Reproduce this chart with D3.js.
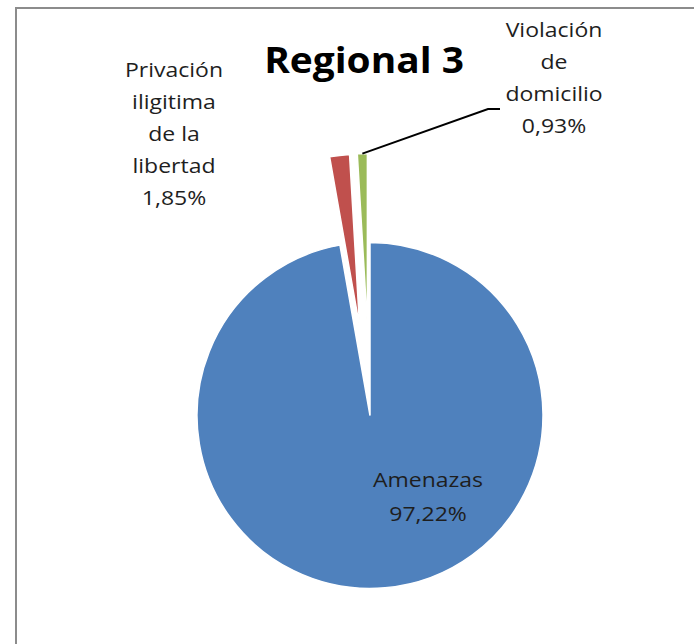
<!DOCTYPE html>
<html>
<head>
<meta charset="utf-8">
<script src="https://cdn.jsdelivr.net/npm/d3@7"></script>
<style>
  body { margin: 0; background: #fff; }
  text { font-family: "Open Sans", Lato, sans-serif; fill: #1e1e1e; font-variant-ligatures: none; }
</style>
</head>
<body>
<div id="chart"></div>
<script>
// Data
const categories = ["Amenazas", "Privación ilegítima de la libertad", "Violación de domicilio"];
const values = [97.22, 1.85, 0.93];
const labelLines = [
    ["Amenazas", "97,22%"],
    ["Privación", "iligitima", "de la", "libertad", "1,85%"],
    ["Violación", "de", "domicilio", "0,93%"]
];
const colors = ["#4f81bd", "#c0504d", "#9bbb59"];

const W = 694, H = 644;
const cx = 370, cy = 415.5, radius = 173;
const explode = [0, 89, 89];
const stretch = 1.15; // source font is wider than the local ones

const svg = d3.select("#chart").append("svg")
    .attr("width", W)
    .attr("height", H);

// chart area frame (right and bottom fall outside the picture)
svg.append("rect")
    .attr("x", 16).attr("y", 8)
    .attr("width", 720).attr("height", 700)
    .attr("fill", "#fff")
    .attr("stroke", "#8c8c8c")
    .attr("stroke-width", 2);

svg.append("text")
    .attr("transform", "translate(364,73) scale(1.08,1)")
    .attr("text-anchor", "middle")
    .attr("font-size", 36)
    .attr("font-weight", "bold")
    .style("fill", "#000")
    .text("Regional 3");

const pie = d3.pie().sort(null).value(d => d);
const arcs = pie(values);
const arc = d3.arc().innerRadius(0).outerRadius(radius);

const g = svg.append("g").attr("transform", `translate(${cx},${cy})`);

function offset(d, i) {
    const a = (d.startAngle + d.endAngle) / 2;
    return [Math.sin(a) * explode[i], -Math.cos(a) * explode[i]];
}

g.selectAll("path.slice")
    .data(arcs)
    .enter()
    .append("path")
    .attr("class", "slice")
    .attr("transform", (d, i) => `translate(${offset(d, i)})`)
    .attr("d", arc)
    .attr("fill", (d, i) => colors[i])
    .attr("stroke", "#fff")
    .attr("stroke-width", 1.5);

// leader line for the smallest slice
const gv = arcs[2];
const ga = (gv.startAngle + gv.endAngle) / 2;
const gr = radius + explode[2];
const leader = [
    [Math.sin(ga) * gr, -Math.cos(ga) * gr],
    [488 - cx, 109 - cy],
    [500 - cx, 109 - cy]
];
g.append("path")
    .attr("d", d3.line()(leader))
    .attr("fill", "none")
    .attr("stroke", "#000")
    .attr("stroke-width", 2);

// label anchors: centre x, first baseline, line step
const labelPos = [
    {x: 428, y: 487, step: 34},
    {x: 174, y: 77, step: 32},
    {x: 554, y: 37, step: 32}
];

labelLines.forEach((lines, i) => {
    const t = svg.append("text")
        .attr("transform", `translate(${labelPos[i].x},0) scale(${stretch},1)`)
        .attr("text-anchor", "middle")
        .attr("font-size", 20);
    lines.forEach((s, j) => {
        t.append("tspan")
            .attr("x", 0)
            .attr("y", labelPos[i].y + j * labelPos[i].step)
            .text(s);
    });
});
</script>
</body>
</html>
